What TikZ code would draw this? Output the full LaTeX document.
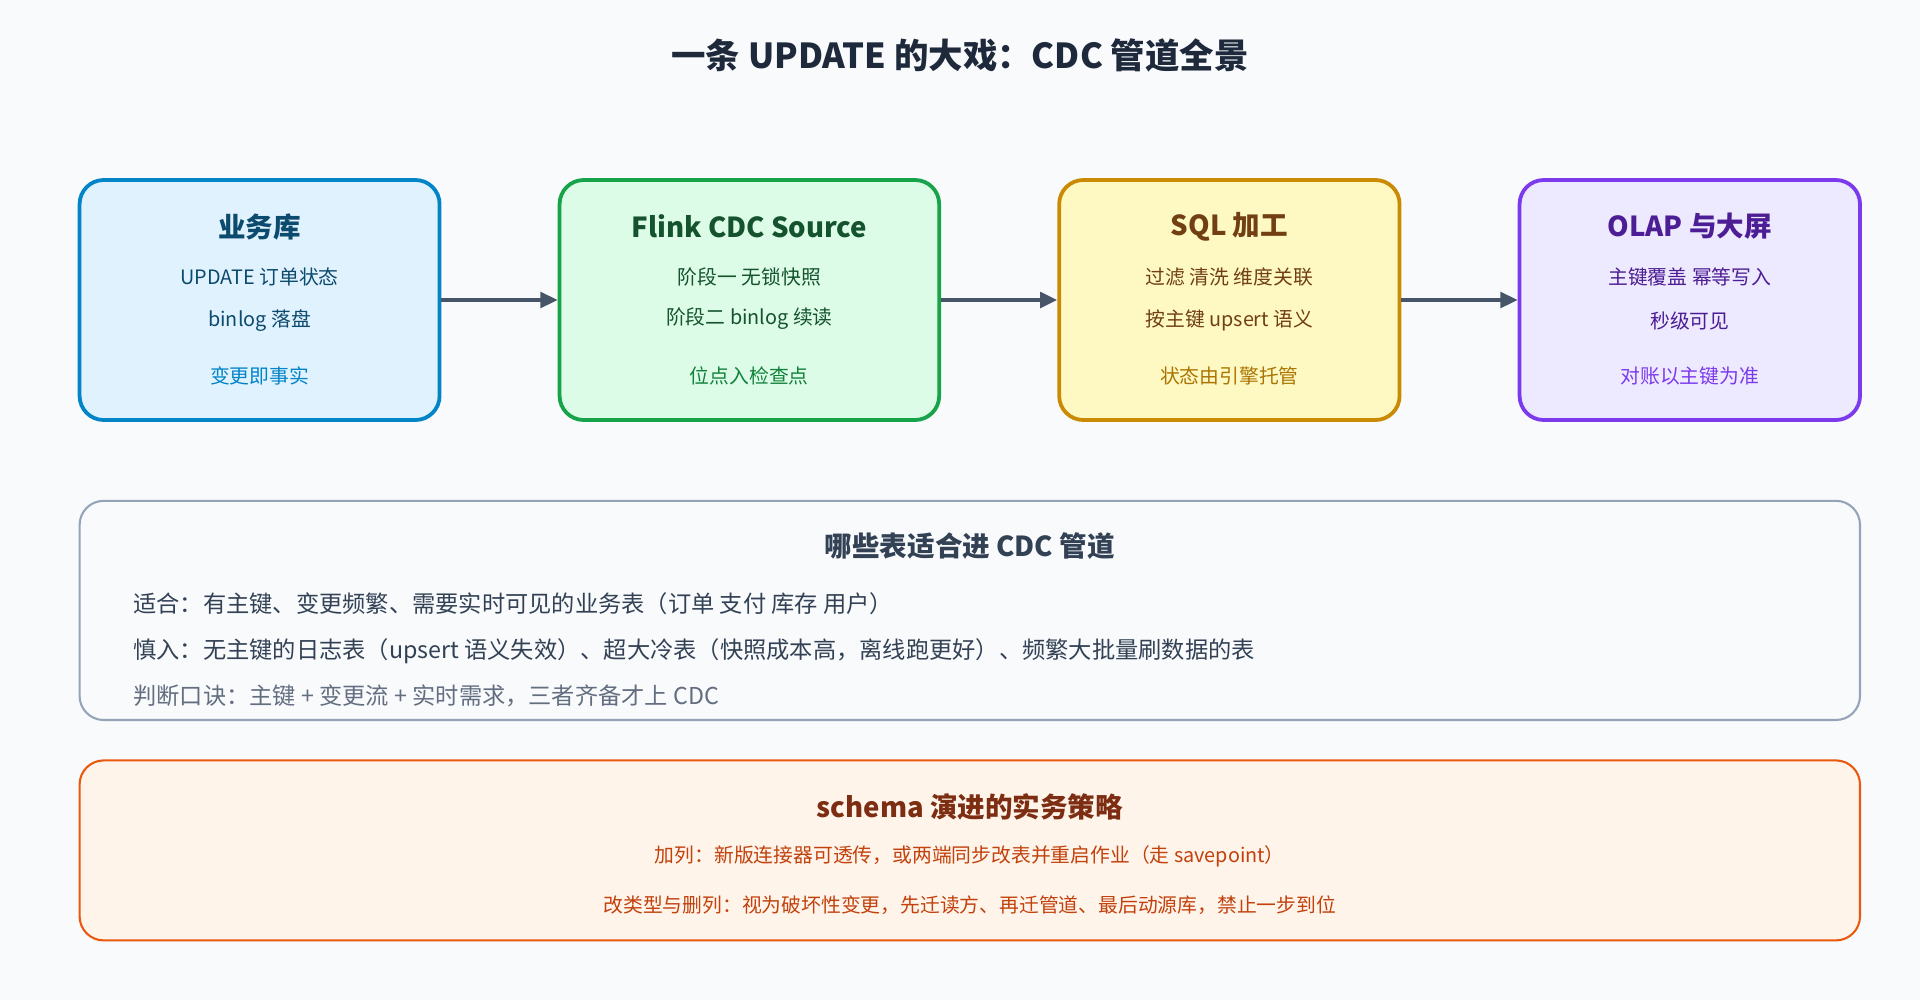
\documentclass[tikz,border=0pt]{standalone}
\usepackage{fontspec}
\setmainfont{Noto Sans CJK SC}
\usetikzlibrary{arrows.meta}
\definecolor{bgc}{HTML}{F8FAFC}
\definecolor{arrc}{HTML}{475569}
\definecolor{bluB}{HTML}{0284C7}\definecolor{bluF}{HTML}{E0F2FE}\definecolor{bluT}{HTML}{0C4A6E}
\definecolor{grnB}{HTML}{16A34A}\definecolor{grnF}{HTML}{DCFCE7}\definecolor{grnT}{HTML}{14532D}
\definecolor{ambB}{HTML}{CA8A04}\definecolor{ambF}{HTML}{FEF9C3}\definecolor{ambT}{HTML}{713F12}
\definecolor{purB}{HTML}{7C3AED}\definecolor{purF}{HTML}{EDE9FE}\definecolor{purT}{HTML}{4C1D95}
\definecolor{gryB}{HTML}{94A3B8}\definecolor{txtc}{HTML}{334155}\definecolor{ttlc}{HTML}{1E293B}
\definecolor{orgB}{HTML}{EA580C}\definecolor{orgF}{HTML}{FFF4EA}\definecolor{orgT}{HTML}{7C2D12}\definecolor{orgL}{HTML}{C2410C}
\tikzset{
  stage/.style={draw, line width=2.2pt, rounded corners=14pt, minimum height=196*0.025cm},
  panel/.style={draw, line width=1.2pt, rounded corners=14pt, minimum width=1454*0.025cm},
  head/.style={font=\fontsize{16}{18}\selectfont\bfseries},
  body/.style={font=\fontsize{11.5}{14}\selectfont},
  line/.style={font=\fontsize{13.5}{16}\selectfont, text=txtc, anchor=west},
  flow/.style={-{Triangle[length=10pt,width=9pt]}, line width=2.2pt, draw=arrc},
}
\begin{document}
\begin{tikzpicture}[x=0.025cm,y=-0.025cm]
  \fill[bgc] (0,0) rectangle (1568,817);
  \node[font=\fontsize{20}{24}\selectfont\bfseries, text=ttlc] (title) at (784,45) {一条 UPDATE 的大戏：CDC 管道全景};

  % pipeline stages
  \node[stage, draw=bluB, fill=bluF, minimum width=294*0.025cm] (db) at (212,245) {};
  \node[stage, draw=grnB, fill=grnF, minimum width=310*0.025cm] (src) at (612,245) {};
  \node[stage, draw=ambB, fill=ambF, minimum width=278*0.025cm] (sql) at (1004,245) {};
  \node[stage, draw=purB, fill=purF, minimum width=278*0.025cm] (olap) at (1380,245) {};

  \node[head, text=bluT] (dbT) at (212,185) {业务库};
  \node[body, text=bluT] (dbA) at (212,226) {UPDATE 订单状态};
  \node[body, text=bluT] (dbB) at (212,262) {binlog 落盘};
  \node[body, text=bluB] (dbC) at (212,307) {变更即事实};

  \node[head, text=grnT] (srcT) at (612,185) {Flink CDC Source};
  \node[body, text=grnT] (srcA) at (612,226) {阶段一 无锁快照};
  \node[body, text=grnT] (srcB) at (612,260) {阶段二 binlog 续读};
  \node[body, text=grnB!80!black] (srcC) at (612,307) {位点入检查点};

  \node[head, text=ambT] (sqlT) at (1004,185) {SQL 加工};
  \node[body, text=ambT] (sqlA) at (1004,226) {过滤 清洗 维度关联};
  \node[body, text=ambT] (sqlB) at (1004,262) {按主键 upsert 语义};
  \node[body, text=ambB!85!black] (sqlC) at (1004,307) {状态由引擎托管};

  \node[head, text=purT] (olapT) at (1380,185) {OLAP 与大屏};
  \node[body, text=purT] (olapA) at (1380,226) {主键覆盖 幂等写入};
  \node[body, text=purT] (olapB) at (1380,262) {秒级可见};
  \node[body, text=purB] (olapC) at (1380,307) {对账以主键为准};

  \draw[flow] (db) -- (src);
  \draw[flow] (src) -- (sql);
  \draw[flow] (sql) -- (olap);

  % which tables fit
  \node[panel, draw=gryB, fill=bgc, minimum height=179*0.025cm] (fit) at (792,498.5) {};
  \node[head, text=txtc] (fitT) at (792,446) {哪些表适合进 CDC 管道};
  \node[line] (fitA) at (104,493) {适合：有主键、变更频繁、需要实时可见的业务表（订单 支付 库存 用户）};
  \node[line] (fitB) at (104,532) {慎入：无主键的日志表（upsert 语义失效）、超大冷表（快照成本高，离线跑更好）、频繁大批量刷数据的表};
  \node[line, text=arrc!85] (fitC) at (104,568) {判断口诀：主键 + 变更流 + 实时需求，三者齐备才上 CDC};

  % schema evolution
  \node[panel, draw=orgB, fill=orgF, minimum height=147*0.025cm] (evo) at (792,694.5) {};
  \node[head, text=orgT] (evoT) at (792,659) {schema 演进的实务策略};
  \node[body, text=orgL] (evoA) at (792,699) {加列：新版连接器可透传，或两端同步改表并重启作业（走 savepoint）};
  \node[body, text=orgL] (evoB) at (792,739) {改类型与删列：视为破坏性变更，先迁读方、再迁管道、最后动源库，禁止一步到位};
\end{tikzpicture}
\end{document}
